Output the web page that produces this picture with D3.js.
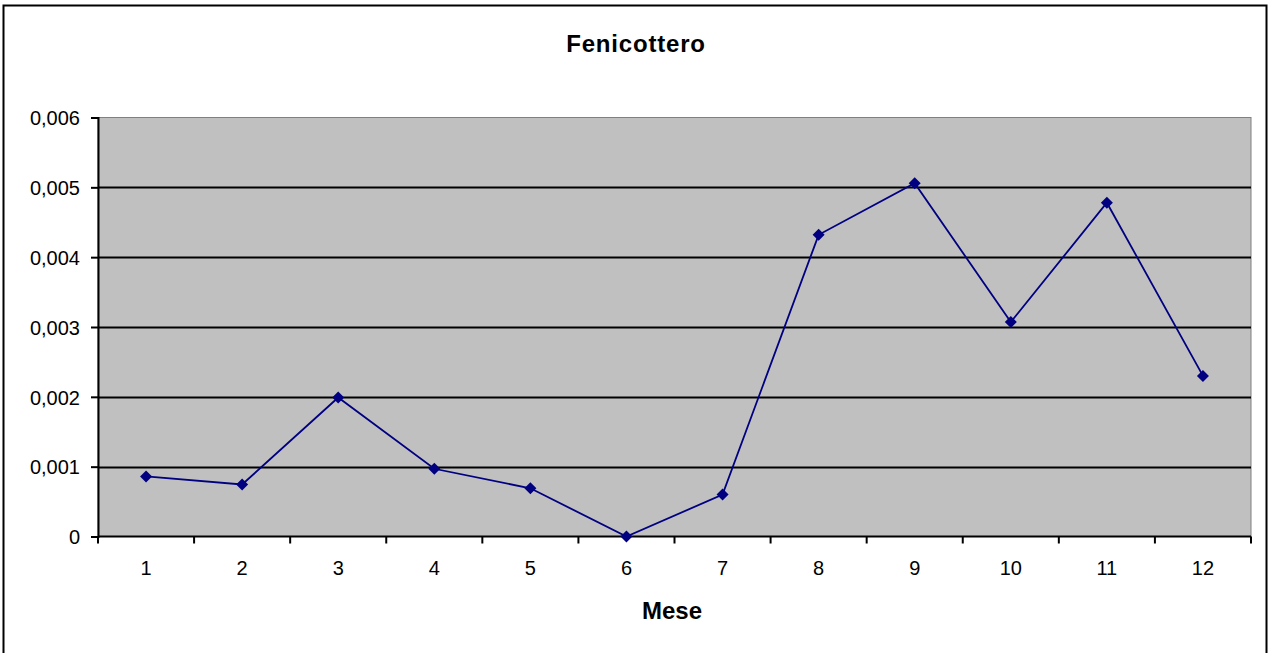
<!DOCTYPE html>
<html><head><meta charset="utf-8">
<script src="https://cdn.jsdelivr.net/npm/d3@7"></script>
<style>body{margin:0;background:#fff}svg{display:block}text{font-family:"Liberation Sans",Arial,sans-serif}</style>
</head><body><svg id="c" width="1270" height="653"></svg>
<script>
const months = [1,2,3,4,5,6,7,8,9,10,11,12];
const values = [0.00086,0.000745,0.00199,0.00097,0.00069,0,0.0006,0.00432,0.00506,0.00307,0.00478,0.0023];
const yTicks = [0,0.001,0.002,0.003,0.004,0.005,0.006];
const yTickLabels = ["0","0,001","0,002","0,003","0,004","0,005","0,006"];
const title = "Fenicottero";
const xTitle = "Mese";

const svg = d3.select("#c");
const L=98, R=1251, T=117.5, B=536.5;
svg.append("rect").attr("x",3.5).attr("y",5.5).attr("width",1263).attr("height",650).attr("fill","#fff").attr("stroke","#000").attr("stroke-width",2);

const x = d3.scaleBand().domain(months).range([L,R]);
const y = d3.scaleLinear().domain([0,0.006]).range([B,T]);

svg.append("rect").attr("x",L).attr("y",T).attr("width",R-L).attr("height",B-T).attr("fill","#c0c0c0").attr("stroke","#808080").attr("stroke-width",1);

svg.append("g").selectAll("line").data(yTicks.slice(1,-1)).join("line")
  .attr("x1",L).attr("x2",R).attr("y1",d=>Math.round(y(d))+0.5).attr("y2",d=>Math.round(y(d))+0.5)
  .attr("stroke","#000").attr("stroke-width",2);

const ya = d3.axisLeft(y).tickValues(yTicks).tickFormat((d,i)=>yTickLabels[i]).tickSize(7).tickPadding(11);
const gy = svg.append("g").attr("transform",`translate(${L},0)`).call(ya);
gy.select(".domain").attr("stroke","#000").attr("stroke-width",2);
gy.selectAll(".tick line").attr("stroke","#000").attr("stroke-width",2);
gy.selectAll("text").attr("font-size",20).attr("fill","#000").attr("dy","0.36em").attr("font-family","Liberation Sans, Arial, sans-serif");

// x axis
const gx = svg.append("g").attr("transform",`translate(0,${B})`);
gx.append("line").attr("x1",L).attr("x2",R).attr("stroke","#000").attr("stroke-width",2);
const edges = months.map(m=>x(m)).concat([R]);
gx.selectAll("line.t").data(edges).join("line").attr("class","t")
  .attr("x1",d=>d).attr("x2",d=>d).attr("y1",0).attr("y2",7).attr("stroke","#000").attr("stroke-width",2);
gx.selectAll("text").data(months).join("text")
  .attr("x",d=>x(d)+x.bandwidth()/2).attr("y",38.5).attr("text-anchor","middle")
  .attr("font-size",20).attr("fill","#000").text(d=>d);

const line = d3.line().x((d,i)=>x(months[i])+x.bandwidth()/2).y(d=>y(d));
svg.append("path").datum(values).attr("d",line).attr("fill","none").attr("stroke","#000080").attr("stroke-width",1.8);
svg.append("g").selectAll("path").data(values).join("path")
  .attr("transform",(d,i)=>`translate(${x(months[i])+x.bandwidth()/2},${y(d)})`)
  .attr("d","M0,-6L6,0L0,6L-6,0Z").attr("fill","#000080");

svg.append("text").attr("x",636).attr("y",52).attr("text-anchor","middle").attr("font-weight","bold").attr("font-size",24).attr("letter-spacing",0.8).text(title);
svg.append("text").attr("x",672).attr("y",619).attr("text-anchor","middle").attr("font-weight","bold").attr("font-size",24).text(xTitle);
</script></body></html>
